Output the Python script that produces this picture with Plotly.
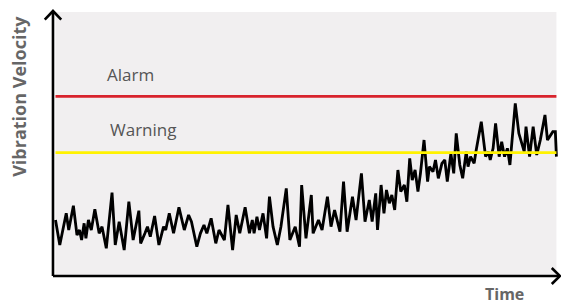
import plotly.graph_objects as go

# Data (arbitrary units)
time = [0.0, 1.2, 3.0, 3.7, 5.0, 6.0, 6.7, 7.3, 8.0, 8.5, 9.2, 10.0, 11.0, 12.2, 13.0, 14.2,
        15.8, 16.7, 17.8, 19.2, 20.5, 21.7, 23.3, 23.8, 25.0, 25.7, 26.5, 27.7, 28.9, 30.2,
        30.8, 31.8, 33.0, 34.5, 36.0, 37.2, 38.0, 39.5, 40.5, 41.5, 42.3, 43.5, 44.8, 45.7,
        47.2, 48.2, 49.5, 50.5, 51.5, 53.0, 54.2, 55.0, 55.5, 56.3, 57.0, 58.0, 59.0, 59.8,
        60.8, 62.0, 63.0, 64.5, 65.5, 67.0, 68.2, 68.8, 70.0, 71.5, 72.0, 73.5, 74.5, 76.0,
        77.0, 78.0, 79.5, 80.5, 81.5, 83.0, 84.0, 85.5, 86.5, 87.7, 88.5, 89.5, 90.0, 91.0,
        91.8, 92.5, 93.3, 94.0, 94.8, 95.7, 96.5, 97.5, 98.2, 99.0, 99.7, 100.5, 101.3, 102.0,
        103.0, 104.0, 104.5, 105.5, 106.2, 107.0, 108.0, 108.8, 109.5, 110.5, 111.3, 112.0,
        113.0, 113.8, 114.8, 115.3, 116.0, 117.0, 117.5, 119.0, 120.2, 121.0, 121.5, 122.3,
        123.0, 124.0, 124.7, 125.5, 126.3, 127.0, 128.5, 129.5, 131.0, 131.5, 132.5, 133.5,
        134.5, 135.5, 136.8, 137.5, 139.0, 139.7, 140.0]
velocity = [16.5, 9.0, 18.5, 13.5, 20.8, 12.0, 13.5, 10.5, 15.5, 11.0, 16.5, 13.5, 19.7, 12.5,
            14.5, 8.0, 24.7, 9.0, 16.0, 7.5, 22.0, 10.5, 19.3, 9.5, 12.5, 14.5, 11.5, 17.7, 9.0,
            14.5, 13.5, 18.5, 12.5, 20.3, 13.5, 18.0, 16.0, 8.5, 12.5, 15.0, 12.5, 17.0, 9.5,
            13.5, 10.5, 21.0, 7.5, 18.0, 12.5, 20.3, 12.5, 16.5, 12.5, 17.5, 13.5, 18.5, 11.0,
            23.5, 14.5, 9.0, 14.5, 26.0, 10.5, 14.5, 8.5, 27.0, 11.0, 24.0, 12.5, 16.5, 13.5,
            23.5, 14.5, 19.5, 13.0, 28.0, 13.0, 23.5, 16.5, 30.5, 16.0, 22.5, 16.0, 24.5, 13.5,
            27.0, 18.5, 25.5, 21.5, 24.0, 19.5, 31.5, 25.0, 27.0, 22.0, 35.0, 28.5, 31.5, 25.0,
            30.5, 40.5, 28.0, 32.5, 31.0, 34.5, 29.0, 33.5, 34.5, 28.0, 36.5, 30.5, 42.5, 33.0,
            29.0, 37.0, 32.5, 35.5, 33.5, 37.0, 46.0, 35.5, 37.0, 34.5, 38.0, 45.5, 35.5, 40.0,
            35.5, 38.0, 33.0, 51.5, 42.5, 37.0, 44.5, 35.5, 44.5, 36.0, 40.5, 48.0, 40.5, 43.0,
            43.0, 35.5]

alarm_level = 53.6
warning_level = 36.7
threshold_labels = ["Alarm", "Warning"]
axis_titles = ["Vibration Velocity", "Time"]

# axis extents (data units)
AX_X0, AX_X1 = -0.7, 141.0
AX_Y0, AX_Y1 = -0.3, 79.2
BG_TOP = 78.9
# full-figure view range so axes/arrows are not clipped
VIEW_X = [-15.51, 141.28]
VIEW_Y = [-9.0, 82.5]

fig = go.Figure()

fig.add_trace(go.Scatter(
    x=time, y=velocity, mode="lines",
    line=dict(color="#000000", width=2.8),
    hoverinfo="skip", showlegend=False,
))

K = "#000000"
shapes = [
    dict(type="rect", xref="x", yref="y", x0=0, x1=time[-1], y0=0, y1=BG_TOP,
         fillcolor="#f1eff0", line=dict(width=0), layer="below"),
    dict(type="line", xref="x", yref="y", x0=0, x1=time[-1], y0=alarm_level, y1=alarm_level,
         line=dict(color="#d8232c", width=2.6)),
    dict(type="line", xref="x", yref="y", x0=0, x1=time[-1], y0=warning_level, y1=warning_level,
         line=dict(color="#fff200", width=2.6)),
    dict(type="line", xref="x", yref="y", x0=AX_X0, x1=AX_X0, y0=AX_Y0, y1=AX_Y1,
         line=dict(color=K, width=2.6)),
    dict(type="line", xref="x", yref="y", x0=AX_X0, x1=AX_X1, y0=AX_Y0, y1=AX_Y0,
         line=dict(color=K, width=2.6)),
    dict(type="path", xref="x", yref="y",
         path=f"M {AX_X0-2.3},{AX_Y1-2.6} L {AX_X0},{AX_Y1} L {AX_X0+2.3},{AX_Y1-2.6}",
         line=dict(color=K, width=2.6)),
    dict(type="path", xref="x", yref="y",
         path=f"M {AX_X1-2.3},{AX_Y0+2.4} L {AX_X1},{AX_Y0} L {AX_X1-2.3},{AX_Y0-2.4}",
         line=dict(color=K, width=2.6)),
]

annotations = [
    dict(text=threshold_labels[0], x=21.1, y=60.3, xref="x", yref="y", showarrow=False,
         font=dict(family="Open Sans", size=17, color="#555555")),
    dict(text=threshold_labels[1], x=24.5, y=43.8, xref="x", yref="y", showarrow=False,
         font=dict(family="Open Sans", size=17, color="#555555")),
    dict(text=f"<b>{axis_titles[0]}</b>", x=-10.05, y=53.6, xref="x", yref="y",
         showarrow=False, textangle=-90,
         font=dict(family="Open Sans", size=18, color="#666666")),
    dict(text=f"<b>{axis_titles[1]}</b>", x=125.6, y=-5.6, xref="x", yref="y", showarrow=False,
         borderpad=0,
         font=dict(family="Open Sans", size=16, color="#666666")),
]

fig.update_layout(
    width=561, height=305,
    margin=dict(l=0, r=0, t=0, b=0),
    paper_bgcolor="#ffffff", plot_bgcolor="#ffffff",
    xaxis=dict(range=VIEW_X, visible=False, fixedrange=True),
    yaxis=dict(range=VIEW_Y, visible=False, fixedrange=True),
    shapes=shapes, annotations=annotations,
    showlegend=False,
)

fig.write_html("out.html", config={"displayModeBar": False, "staticPlot": True},
               post_script="document.body.style.margin='0';")
